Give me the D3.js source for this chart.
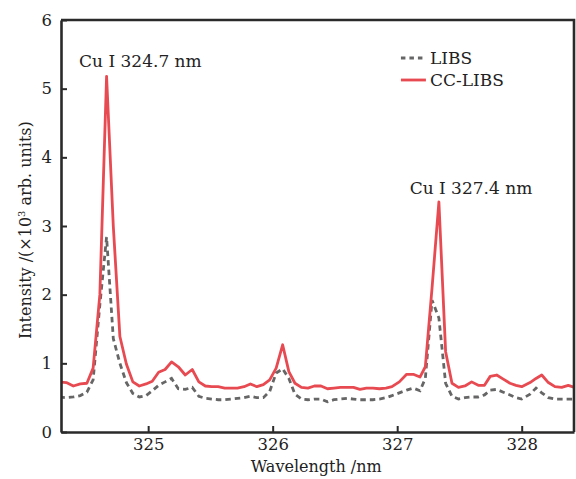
<!DOCTYPE html>
<html>
<head>
<meta charset="utf-8">
<script src="https://cdn.jsdelivr.net/npm/d3@7"></script>
<style>
  body { margin: 0; background: #fff; }
  text { font-family: "DejaVu Serif", serif; fill: #222; }
</style>
</head>
<body>
<script>
// Wavelength samples (nm), shared by both spectra
const wavelength = [
  324.287, 324.343, 324.399, 324.455, 324.508, 324.558, 324.612, 324.666, 324.720, 324.773,
  324.825, 324.877, 324.929, 324.983, 325.033, 325.084, 325.136, 325.188, 325.242, 325.298,
  325.354, 325.407, 325.459, 325.511, 325.562, 325.615, 325.666, 325.717, 325.770, 325.821,
  325.873, 325.925, 325.976, 326.028, 326.080, 326.130, 326.179, 326.231, 326.283, 326.335,
  326.388, 326.440, 326.492, 326.544, 326.596, 326.649, 326.701, 326.753, 326.805, 326.857,
  326.910, 326.958, 327.017, 327.076, 327.129, 327.183, 327.226, 327.280, 327.335, 327.389,
  327.440, 327.492, 327.544, 327.598, 327.651, 327.701, 327.747, 327.799, 327.852, 327.906,
  327.954, 328.000, 328.067, 328.115, 328.161, 328.214, 328.267, 328.321, 328.374, 328.424
];

// CC-LIBS intensity (x10^3 arb. units)
const ccLibs = [
  0.73, 0.72, 0.67, 0.70, 0.71, 0.93, 2.00, 5.18, 3.00, 1.39,
  0.99, 0.73, 0.67, 0.70, 0.74, 0.87, 0.91, 1.02, 0.95, 0.83,
  0.91, 0.73, 0.67, 0.66, 0.66, 0.64, 0.64, 0.64, 0.66, 0.70,
  0.66, 0.69, 0.76, 0.93, 1.27, 0.88, 0.71, 0.65, 0.64, 0.67,
  0.67, 0.63, 0.64, 0.65, 0.65, 0.65, 0.62, 0.64, 0.64, 0.63,
  0.64, 0.66, 0.73, 0.84, 0.84, 0.80, 0.95, 2.10, 3.35, 1.17,
  0.71, 0.65, 0.67, 0.73, 0.68, 0.68, 0.81, 0.83, 0.77, 0.71,
  0.68, 0.66, 0.72, 0.78, 0.83, 0.72, 0.66, 0.65, 0.68, 0.65
];

// LIBS intensity (x10^3 arb. units)
const libs = [
  0.51, 0.50, 0.51, 0.53, 0.58, 0.76, 1.85, 2.84, 1.36, 1.00,
  0.72, 0.56, 0.51, 0.53, 0.60, 0.68, 0.73, 0.78, 0.63, 0.62,
  0.65, 0.52, 0.49, 0.48, 0.47, 0.47, 0.48, 0.49, 0.50, 0.52,
  0.50, 0.50, 0.59, 0.86, 0.92, 0.78, 0.55, 0.48, 0.47, 0.48,
  0.48, 0.44, 0.47, 0.48, 0.49, 0.48, 0.47, 0.47, 0.47, 0.48,
  0.50, 0.53, 0.57, 0.61, 0.64, 0.60, 0.78, 1.92, 1.66, 0.71,
  0.52, 0.48, 0.50, 0.51, 0.51, 0.54, 0.61, 0.62, 0.58, 0.54,
  0.50, 0.48, 0.55, 0.64, 0.57, 0.50, 0.48, 0.48, 0.48, 0.48
];

const xTicks = [325, 326, 327, 328];
const yTicks = [0, 1, 2, 3, 4, 5, 6];

const peakLabels = [
  {text: "Cu I 324.7 nm", x: 324.445, y: 5.31},
  {text: "Cu I 327.4 nm", x: 327.10, y: 3.47}
];

const W = 576, H = 479;
const margin = {top: 20, right: 2, bottom: 47, left: 61};
const width = W - margin.left - margin.right,
      height = H - margin.top - margin.bottom;

const svg = d3.select("body").append("svg")
  .attr("width", W)
  .attr("height", H);

const g = svg.append("g")
  .attr("transform", `translate(${margin.left},${margin.top})`);

const x = d3.scaleLinear().domain([324.3, 328.42]).range([0, width]);
const y = d3.scaleLinear().domain([0, 6]).range([height, 0]);

g.append("clipPath").attr("id", "clip")
  .append("rect").attr("width", width).attr("height", height);

const line = d3.line()
  .x((d, i) => x(wavelength[i]))
  .y(d => y(d));

// LIBS (dashed grey)
g.append("path")
  .datum(libs)
  .attr("clip-path", "url(#clip)")
  .attr("d", line)
  .attr("fill", "none")
  .attr("stroke", "#666666")
  .attr("stroke-width", 2.8)
  .attr("stroke-dasharray", "5.5,4");

// CC-LIBS (red)
g.append("path")
  .datum(ccLibs)
  .attr("clip-path", "url(#clip)")
  .attr("d", line)
  .attr("fill", "none")
  .attr("stroke", "#e84a52")
  .attr("stroke-width", 2.8)
  .attr("stroke-linejoin", "round");

// axes with inward ticks
const xAxis = g.append("g")
  .attr("transform", `translate(0,${height})`)
  .call(d3.axisBottom(x).tickValues(xTicks).tickFormat(d3.format("d"))
    .tickSize(-6).tickPadding(6).tickSizeOuter(0));
const yAxis = g.append("g")
  .call(d3.axisLeft(y).tickValues(yTicks).tickFormat(d3.format("d"))
    .tickSize(-6).tickPadding(9).tickSizeOuter(0));

[xAxis, yAxis].forEach(a => {
  a.select(".domain").attr("stroke", "#2a2a2a").attr("stroke-width", 2.6);
  a.selectAll(".tick line").attr("stroke", "#2a2a2a").attr("stroke-width", 2);
  a.selectAll(".tick text")
    .attr("font-family", "DejaVu Serif, serif")
    .attr("font-size", 16.5)
    .attr("fill", "#222");
});

// top and right frame
g.append("path")
  .attr("d", `M0,0H${width}V${height}`)
  .attr("fill", "none")
  .attr("stroke", "#2a2a2a")
  .attr("stroke-width", 2.6);

// axis titles
svg.append("text")
  .attr("x", margin.left + x(326.35))
  .attr("y", 472)
  .attr("text-anchor", "middle")
  .attr("font-size", 16)
  .text("Wavelength /nm");

const yl = svg.append("text")
  .attr("transform", `translate(31,${margin.top + y(2.94)}) rotate(-90)`)
  .attr("text-anchor", "middle")
  .attr("font-size", 16);
yl.append("tspan").text("Intensity /(×10");
yl.append("tspan").attr("font-size", 10).attr("dy", -6).text("3");
yl.append("tspan").attr("dy", 6).text(" arb. units)");

// peak annotations
g.selectAll(".peak")
  .data(peakLabels)
  .enter().append("text")
  .attr("x", d => x(d.x))
  .attr("y", d => y(d.y))
  .attr("font-size", 17)
  .text(d => d.text);

// legend
const legend = g.append("g").attr("transform", `translate(${x(327.03)},0)`);
const items = [
  {label: "LIBS", color: "#666666", dash: "4.5,4"},
  {label: "CC-LIBS", color: "#e84a52", dash: null}
];
items.forEach((it, i) => {
  const row = legend.append("g").attr("transform", `translate(0,${38 + i * 22})`);
  row.append("line")
    .attr("x1", 0).attr("x2", 25)
    .attr("stroke", it.color)
    .attr("stroke-width", 2.8)
    .attr("stroke-dasharray", it.dash);
  row.append("text")
    .attr("x", 29).attr("y", 6)
    .attr("font-size", 17)
    .text(it.label);
});
</script>
</body>
</html>
